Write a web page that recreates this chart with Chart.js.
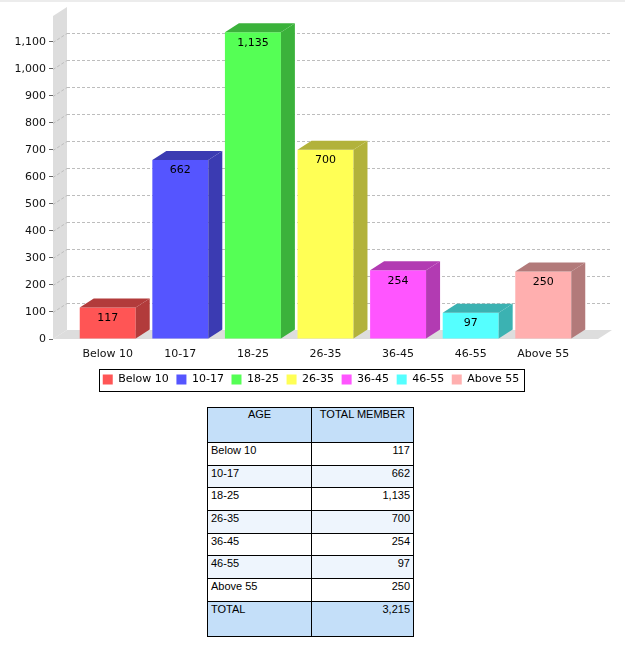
<!DOCTYPE html>
<html>
<head>
<meta charset="utf-8">
<script src="https://cdn.jsdelivr.net/npm/chart.js@4.4.1/dist/chart.umd.min.js"></script>
<style>
  html, body { margin: 0; padding: 0; background: #ffffff; }
  body { width: 625px; height: 646px; position: relative; overflow: hidden; }
  #topstrip { position: absolute; left: 0; top: 0; width: 625px; height: 2px; background: #ececec; z-index: 2; }
  #wrap { position: absolute; left: 0; top: 0; width: 625px; height: 397px; }
  #ageTable {
    position: absolute; left: 207px; top: 407px; width: 207px;
    border-collapse: collapse; table-layout: fixed;
    font-family: 'Liberation Sans', Arial, sans-serif; font-size: 11px; color: #000;
  }
  #ageTable td, #ageTable th {
    border: 1px solid #000; padding: 1px 3px; vertical-align: top; font-weight: normal;
    overflow: hidden; white-space: nowrap;
  }
  #ageTable th { text-align: center; padding-top: 0px; }
  #ageTable tr.head, #ageTable tr.total { height: 35px; }
  #ageTable tr.head th, #ageTable tr.total td { background: #c4dff9; }
  #ageTable tr.row { height: 22.7px; }
  #ageTable tr.odd td { background: #ffffff; }
  #ageTable tr.even td { background: #eef5fd; }
  #ageTable td.num { text-align: right; }
</style>
</head>
<body>
<div id="topstrip"></div>
<div id="wrap"><canvas id="c" width="625" height="397"></canvas></div>
<table id="ageTable">
  <colgroup><col style="width:104px"><col style="width:102px"></colgroup>
  <tbody id="tbody"></tbody>
</table>
<script>
// ---- data ----
const categories = ['Below 10', '10-17', '18-25', '26-35', '36-45', '46-55', 'Above 55'];
const members = [117, 662, 1135, 700, 254, 97, 250];
const yTickValues = [0, 100, 200, 300, 400, 500, 600, 700, 800, 900, 1000, 1100];
const tableHeaders = ['AGE', 'TOTAL MEMBER'];
const totalLabel = 'TOTAL';
const barColors = ['#ff5555', '#5555ff', '#55ff55', '#ffff55', '#ff55ff', '#55ffff', '#ffafaf'];
const yAxisMax = 1195;

// ---- helpers ----
const DX = 14, DY = 9;
const fmt = v => Number(v).toLocaleString('en-US');
function darker(hex) {
  const n = parseInt(hex.slice(1), 16);
  const r = Math.floor(((n >> 16) & 255) * 0.7), g = Math.floor(((n >> 8) & 255) * 0.7), b = Math.floor((n & 255) * 0.7);
  return 'rgb(' + r + ',' + g + ',' + b + ')';
}

// ---- table ----
(function buildTable() {
  const tb = document.getElementById('tbody');
  let html = '<tr class="head"><th>' + tableHeaders[0] + '</th><th>' + tableHeaders[1] + '</th></tr>';
  categories.forEach((c, i) => {
    html += '<tr class="row ' + (i % 2 === 0 ? 'odd' : 'even') + '"><td>' + c + '</td><td class="num">' + fmt(members[i]) + '</td></tr>';
  });
  const total = members.reduce((a, b) => a + b, 0);
  html += '<tr class="total"><td>' + totalLabel + '</td><td class="num">' + fmt(total) + '</td></tr>';
  tb.innerHTML = html;
})();

// ---- 3D plugin ----
const threeD = {
  id: 'threeD',
  beforeDatasetsDraw(chart) {
    const { ctx, chartArea: a, scales: { y } } = chart;
    ctx.save();
    ctx.fillStyle = '#dddddd';
    ctx.beginPath();
    ctx.moveTo(a.left, a.bottom); ctx.lineTo(a.left, a.top);
    ctx.lineTo(a.left + DX, a.top - DY); ctx.lineTo(a.left + DX, a.bottom - DY);
    ctx.closePath(); ctx.fill();
    ctx.beginPath();
    ctx.moveTo(a.left, a.bottom); ctx.lineTo(a.left + DX, a.bottom - DY);
    ctx.lineTo(a.right + DX, a.bottom - DY); ctx.lineTo(a.right, a.bottom);
    ctx.closePath(); ctx.fill();
    ctx.strokeStyle = '#bdbdbd'; ctx.lineWidth = 1; ctx.setLineDash([3, 2]);
    y.ticks.forEach(t => {
      if (t.value === 0) return;
      const py = Math.round(y.getPixelForValue(t.value)) + 0.5;
      ctx.beginPath(); ctx.moveTo(a.left + DX, py - DY); ctx.lineTo(a.right + DX, py - DY); ctx.stroke();
      ctx.beginPath(); ctx.moveTo(a.left, py); ctx.lineTo(a.left + DX, py - DY); ctx.stroke();
    });
    ctx.restore();
  },
  afterDatasetsDraw(chart) {
    const { ctx } = chart;
    const meta = chart.getDatasetMeta(0);
    ctx.save();
    meta.data.forEach((bar, i) => {
      const p = bar.getProps(['x', 'y', 'base', 'width'], true);
      const l = p.x - p.width / 2, r = p.x + p.width / 2;
      ctx.fillStyle = darker(barColors[i]);
      ctx.beginPath();
      ctx.moveTo(r, p.base); ctx.lineTo(r, p.y); ctx.lineTo(r + DX, p.y - DY); ctx.lineTo(r + DX, p.base - DY);
      ctx.closePath(); ctx.fill();
      ctx.beginPath();
      ctx.moveTo(l, p.y); ctx.lineTo(l + DX, p.y - DY); ctx.lineTo(r + DX, p.y - DY); ctx.lineTo(r, p.y);
      ctx.closePath(); ctx.fill();
      ctx.fillStyle = '#000000';
      ctx.font = '11px "DejaVu Sans"';
      ctx.textAlign = 'center'; ctx.textBaseline = 'top';
      ctx.fillText(fmt(members[i]), p.x, p.y + 5);
    });
    ctx.restore();
  },
  afterDraw(chart) {
    const lg = chart.legend;
    if (!lg || !lg.legendHitBoxes || !lg.legendHitBoxes.length) return;
    const hb = lg.legendHitBoxes;
    let L = Infinity, R = -Infinity;
    hb.forEach(h => { L = Math.min(L, h.left); R = Math.max(R, h.left + h.width); });
    const cy = hb[0].top + hb[0].height / 2;
    const ctx = chart.ctx;
    ctx.save();
    ctx.strokeStyle = '#000'; ctx.lineWidth = 1;
    ctx.strokeRect(Math.round(L - 4) + 0.5, Math.round(cy - 11) + 0.5, Math.round(R - L + 8), 22);
    ctx.restore();
  }
};

Chart.defaults.font.family = '"DejaVu Sans", sans-serif';
Chart.defaults.font.size = 11;

new Chart(document.getElementById('c'), {
  type: 'bar',
  data: {
    labels: categories,
    datasets: [{
      data: members,
      backgroundColor: barColors,
      borderWidth: 0,
      categoryPercentage: 1,
      barPercentage: 0.771
    }]
  },
  options: {
    responsive: false,
    animation: false,
    devicePixelRatio: 1,
    layout: { padding: { top: 16, left: 12, right: 15, bottom: 2 } },
    plugins: {
      tooltip: { enabled: false },
      legend: {
        position: 'bottom',
        onClick: null,
        labels: {
          boxWidth: 10, boxHeight: 10, padding: 7.6, color: '#000',
          font: { size: 11, family: '"DejaVu Sans", sans-serif' },
          generateLabels: () => categories.map((c, i) => ({
            text: c, fillStyle: barColors[i], strokeStyle: barColors[i], lineWidth: 0, hidden: false, index: i
          }))
        }
      }
    },
    scales: {
      x: {
        grid: { display: false },
        border: { display: false },
        ticks: { color: '#111', padding: 1, font: { size: 11 } },
        afterBuildTicks(scale) {
          const m = 0.754;
          scale._startValue = -m;
          scale._valueRange = categories.length - 1 + 2 * m;
        },
        afterFit(scale) { scale.height = 27.4; }
      },
      y: {
        min: 0, max: yAxisMax,
        border: { display: false },
        grid: { drawOnChartArea: false, drawTicks: true, tickLength: 4, color: '#666' },
        ticks: { padding: 3, color: '#111', font: { size: 11 }, callback: v => fmt(v) },
        afterBuildTicks(scale) { scale.ticks = yTickValues.map(v => ({ value: v })); },
        afterFit(scale) { scale.width = 41; }
      },
      yRight: {
        type: 'linear',
        position: 'right',
        display: true,
        border: { display: false },
        grid: { display: false },
        ticks: { display: false },
        afterFit(scale) { scale.width = 12; }
      }
    }
  },
  plugins: [threeD]
});
</script>
</body>
</html>
